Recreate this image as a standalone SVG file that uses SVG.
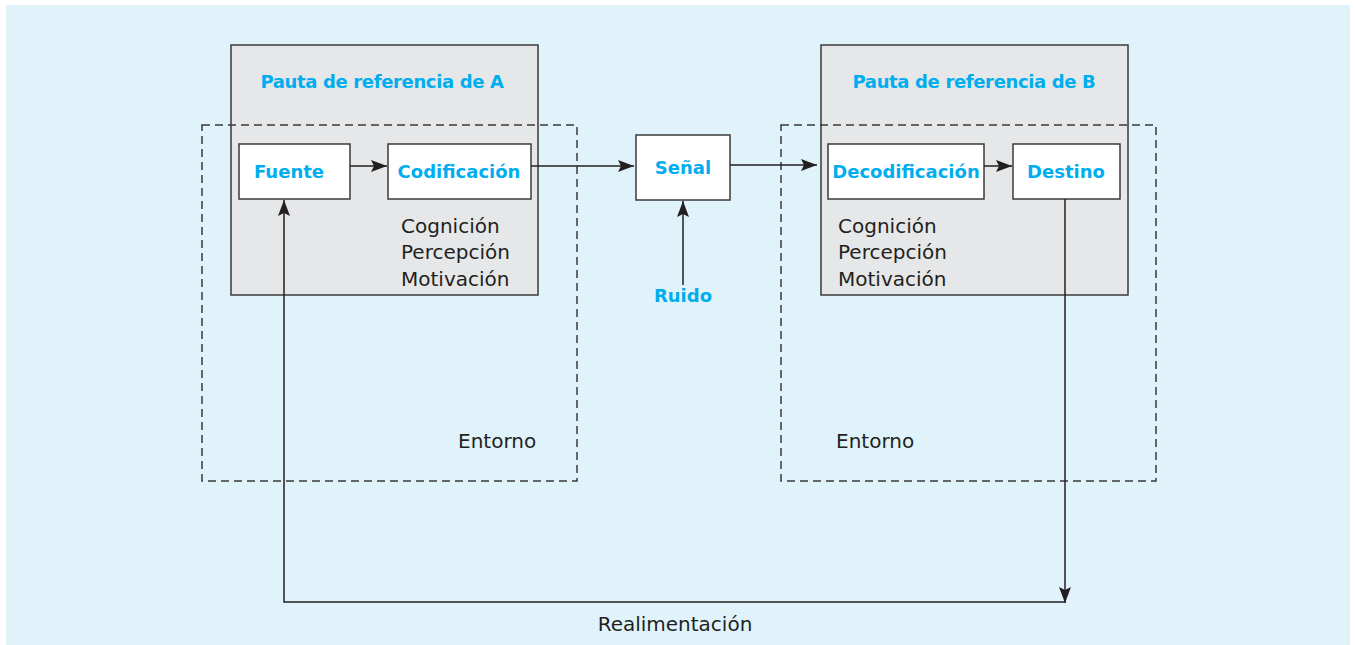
<svg xmlns="http://www.w3.org/2000/svg" width="1355" height="645" viewBox="0 0 1355 645">
<style>
.frame{fill:#e6e7e8;stroke:#3a3a3a;stroke-width:1.5}
.box{fill:#ffffff;stroke:#3a3a3a;stroke-width:1.5}
.env{fill:none;stroke:#3a3a3a;stroke-width:1.5;stroke-dasharray:8 5}
.b{font-family:"DejaVu Sans",sans-serif;font-weight:bold;font-size:18px;fill:#00aeef;text-anchor:middle}
.t{letter-spacing:-0.35px}
.r{font-family:"DejaVu Sans",sans-serif;font-size:20px;fill:#231f20}
.ln{fill:none;stroke:#231f20;stroke-width:1.5}
</style>
<defs>
<marker id="ah" viewBox="0 0 16 12" refX="16" refY="6" markerWidth="16" markerHeight="12" markerUnits="userSpaceOnUse" orient="auto">
<path d="M0,0 L16,6 L0,12 L3,6 Z" fill="#231f20"/>
</marker>
</defs>
<rect x="6" y="5" width="1344" height="640" fill="#e0f3fb"/>
<g id="frameA">
<rect class="frame" x="231" y="45" width="307" height="250"/>
<text class="b t" x="382" y="88">Pauta de referencia de A</text>
<text class="r" x="401" y="233">Cognición</text>
<text class="r" x="401" y="259">Percepción</text>
<text class="r" x="401" y="286">Motivación</text>
</g>
<g id="frameB">
<rect class="frame" x="821" y="45" width="307" height="250"/>
<text class="b t" x="974" y="88">Pauta de referencia de B</text>
<text class="r" x="838" y="233">Cognición</text>
<text class="r" x="838" y="259">Percepción</text>
<text class="r" x="838" y="286">Motivación</text>
</g>
<g id="entornoA">
<rect class="env" x="202" y="125" width="375" height="356"/>
<text class="r" x="458" y="448">Entorno</text>
</g>
<g id="entornoB">
<rect class="env" x="781" y="125" width="375" height="356"/>
<text class="r" x="836" y="448">Entorno</text>
</g>
<g id="fuente">
<rect class="box" x="239" y="144" width="111" height="55"/>
<text class="b" x="289" y="178">Fuente</text>
</g>
<g id="codificacion">
<rect class="box" x="388" y="144" width="143" height="55"/>
<text class="b" x="459" y="178">Codificación</text>
</g>
<g id="senal">
<rect class="box" x="636" y="135" width="94" height="65"/>
<text class="b" x="683" y="174">Señal</text>
</g>
<g id="ruido">
<text class="b" x="683" y="302">Ruido</text>
</g>
<g id="decodificacion">
<rect class="box" x="828" y="144" width="156" height="55"/>
<text class="b" x="906" y="178">Decodificación</text>
</g>
<g id="destino">
<rect class="box" x="1013" y="144" width="107" height="55"/>
<text class="b" x="1066" y="178">Destino</text>
</g>
<g id="connectors">
<line class="ln" x1="350" y1="166" x2="387" y2="166" marker-end="url(#ah)"/>
<line class="ln" x1="531" y1="166" x2="634" y2="166" marker-end="url(#ah)"/>
<line class="ln" x1="730" y1="165" x2="817" y2="165" marker-end="url(#ah)"/>
<line class="ln" x1="984" y1="166" x2="1012" y2="166" marker-end="url(#ah)"/>
<line class="ln" x1="683" y1="285" x2="683" y2="201" marker-end="url(#ah)"/>
<line class="ln" x1="1065" y1="199" x2="1065" y2="603" marker-end="url(#ah)"/>
<polyline class="ln" points="1065,602 284,602 284,200" marker-end="url(#ah)"/>
</g>
<text class="r" x="675" y="631" text-anchor="middle">Realimentación</text>
</svg>
